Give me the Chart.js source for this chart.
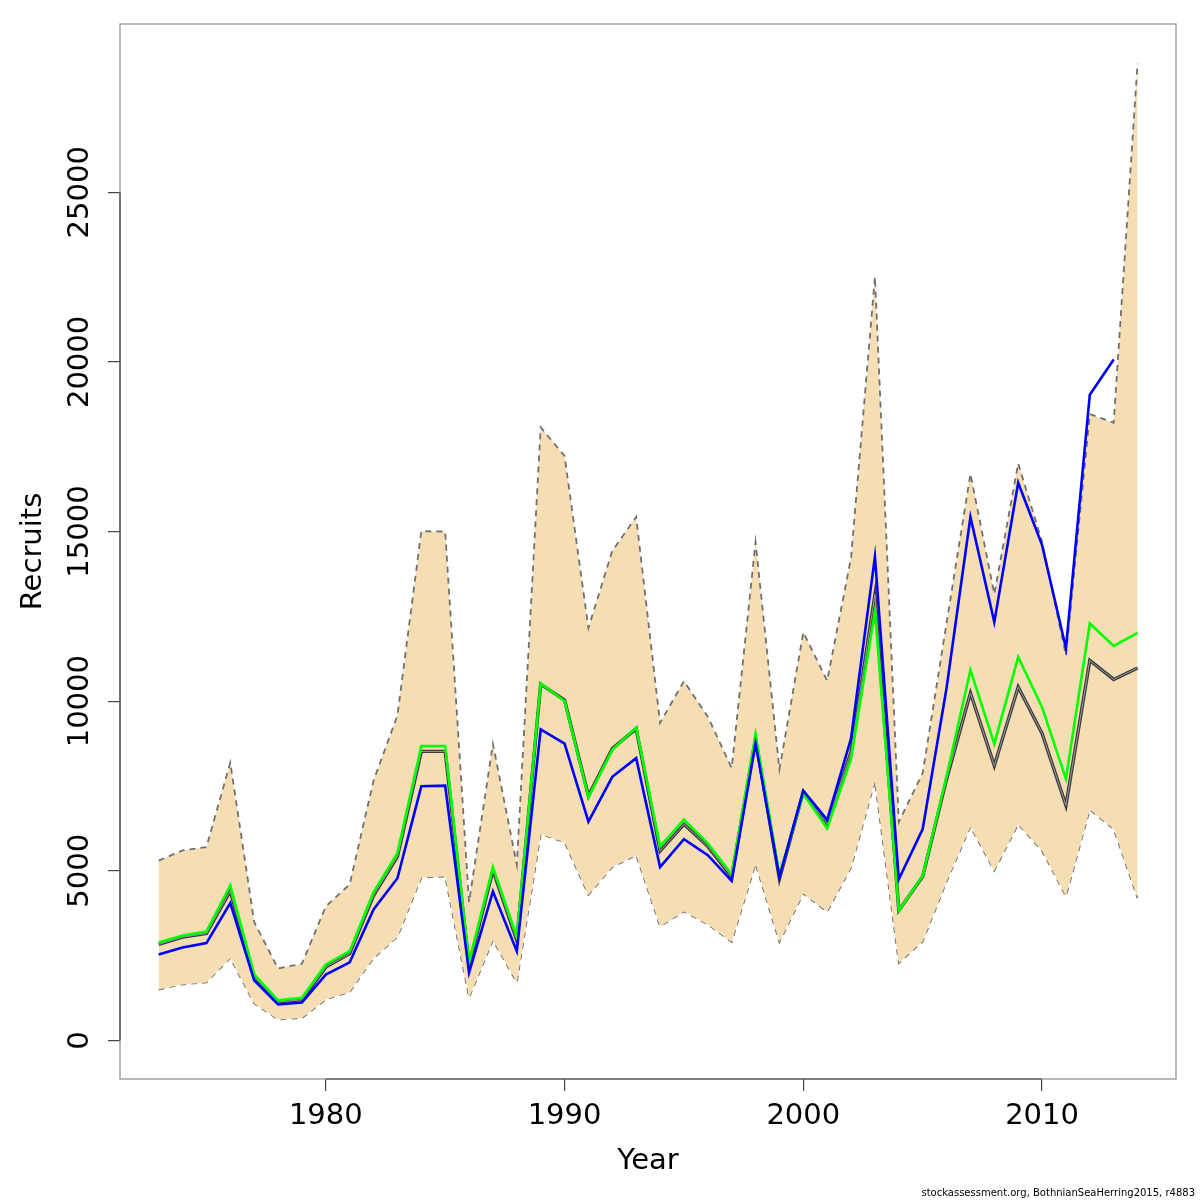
<!DOCTYPE html>
<html>
<head>
<meta charset="utf-8">
<script src="https://cdn.jsdelivr.net/npm/chart.js@4.4.1/dist/chart.umd.min.js"></script>
<style>
  body { margin: 0; background: #fff; }
  #wrap { width: 1200px; height: 1200px; }
</style>
</head>
<body>
<div id="wrap"><canvas id="recruits"></canvas></div>
<script>
// years of the assessment
const years = [1973, 1974, 1975, 1976, 1977, 1978, 1979, 1980, 1981, 1982,
  1983, 1984, 1985, 1986, 1987, 1988, 1989, 1990, 1991, 1992,
  1993, 1994, 1995, 1996, 1997, 1998, 1999, 2000, 2001, 2002,
  2003, 2004, 2005, 2006, 2007, 2008, 2009, 2010, 2011, 2012,
  2013, 2014]

// confidence band (dashed edges)
const upperCI = [5300, 5600, 5700, 8190, 3490, 2120, 2260, 3950, 4600, 7660,
  9580, 15010, 15000, 4080, 8740, 5180, 18070, 17230, 12160, 14430,
  15430, 9360, 10590, 9540, 8030, 14690, 7990, 12030, 10600, 14230,
  22510, 6440, 7880, 12300, 16700, 13160, 17010, 14700, 11350, 18460,
  18210, 28800]
const lowerCI = [1500, 1650, 1710, 2430, 1090, 620, 660, 1210, 1430, 2430,
  3050, 4800, 4830, 1260, 2950, 1710, 6080, 5840, 4290, 5110,
  5460, 3360, 3800, 3420, 2900, 5200, 2900, 4330, 3790, 5100,
  7640, 2280, 2920, 4680, 6300, 5000, 6370, 5590, 4250, 6800,
  6230, 4190]

// estimate (black)
const estimate = [2830, 3045, 3150, 4400, 1870, 1130, 1200, 2160, 2560, 4270,
  5420, 8520, 8520, 2210, 5010, 2950, 10500, 10030, 7210, 8600,
  9190, 5580, 6370, 5720, 4820, 8900, 4760, 7330, 6390, 8500,
  13140, 3830, 4830, 7700, 10240, 8100, 10420, 9050, 6930, 11200,
  10640, 10980]

// green run
const greenRun = [2890, 3090, 3210, 4570, 1945, 1180, 1260, 2240, 2630, 4370,
  5520, 8680, 8680, 2310, 5110, 3050, 10520, 10005, 7170, 8570,
  9220, 5720, 6510, 5810, 4900, 9020, 4880, 7270, 6250, 8300,
  12640, 3830, 4850, 7780, 10920, 8740, 11300, 9820, 7710, 12290,
  11630, 12010]

// blue run (ends 2013)
const blueRun = [2535, 2740, 2870, 4050, 1770, 1060, 1120, 1940, 2300, 3860,
  4780, 7490, 7510, 2000, 4390, 2630, 9170, 8750, 6450, 7770,
  8320, 5110, 5930, 5460, 4700, 8750, 4820, 7360, 6500, 8900,
  14260, 4750, 6230, 10390, 15430, 12330, 16440, 14600, 11560, 19030,
  20070, null]

const xTicks = [1980, 1990, 2000, 2010]
const yTicks = [0, 5000, 10000, 15000, 20000, 25000]

const FONT = 'DejaVu Sans'

function pts(arr) {
    return years.map((yr, i) => ({ x: yr, y: arr[i] }))
}

// R-like frame: grey box, dark axis lines between first and last tick, rotated y labels
const rFrame = {
    id: 'rFrame',
    afterDraw(chart) {
        const ctx = chart.ctx
        const a = chart.chartArea
        const xs = chart.scales.x
        const ys = chart.scales.y
        ctx.save()
        ctx.strokeStyle = '#8c8c8c'
        ctx.lineWidth = 1.2
        ctx.strokeRect(a.left, a.top, a.right - a.left, a.bottom - a.top)

        ctx.strokeStyle = '#444'
        ctx.lineWidth = 1.2
        ctx.beginPath()
        ctx.moveTo(xs.getPixelForValue(xTicks[0]), a.bottom)
        ctx.lineTo(xs.getPixelForValue(xTicks[xTicks.length - 1]), a.bottom)
        ctx.moveTo(a.left, ys.getPixelForValue(yTicks[0]))
        ctx.lineTo(a.left, ys.getPixelForValue(yTicks[yTicks.length - 1]))
        ctx.stroke()

        ctx.fillStyle = '#000'
        ctx.font = '29px "' + FONT + '"'
        ctx.textAlign = 'center'
        ctx.textBaseline = 'middle'
        yTicks.forEach((v) => {
            ctx.save()
            ctx.translate(80, ys.getPixelForValue(v))
            ctx.rotate(-Math.PI / 2)
            ctx.fillText(String(v), 0, 0)
            ctx.restore()
        })

        ctx.font = '10px "' + FONT + '"'
        ctx.textAlign = 'right'
        ctx.fillText('stockassessment.org, BothnianSeaHerring2015, r4883', 1195, 1193)
        ctx.restore()
    }
}

const config = {
    type: 'line',
    data: {
        datasets: [
            { label: 'blue', data: pts(blueRun), borderColor: '#0000ff', borderWidth: 2.6, order: 0, spanGaps: false },
            { label: 'green', data: pts(greenRun), borderColor: '#00ff00', borderWidth: 2.6, order: 1 },
            { label: 'estimate core', data: pts(estimate), borderColor: '#9a9a9a', borderWidth: 1, order: 2 },
            { label: 'estimate', data: pts(estimate), borderColor: '#3c3c3c', borderWidth: 3.4, order: 3 },
            {
                label: 'upper', data: pts(upperCI), borderColor: '#707070', borderWidth: 1.8,
                borderDash: [6, 5], fill: '+1', backgroundColor: '#f5deb3', order: 4
            },
            { label: 'lower', data: pts(lowerCI), borderColor: '#707070', borderWidth: 1.8, borderDash: [6, 5], order: 5 }
        ]
    },
    options: {
        responsive: true,
        maintainAspectRatio: false,
        animation: false,
        devicePixelRatio: 1,
        elements: {
            point: { radius: 0, hoverRadius: 0 },
            line: { tension: 0, fill: false }
        },
        layout: { padding: { top: 24, right: 24, left: 0, bottom: 0 } },
        plugins: {
            legend: { display: false },
            tooltip: { enabled: false }
        },
        scales: {
            x: {
                type: 'linear',
                min: 1971.38,
                max: 2015.61,
                afterBuildTicks: (scale) => { scale.ticks = xTicks.map(v => ({ value: v })) },
                afterFit: (scale) => { scale.height = 121 },
                grid: { drawOnChartArea: false, drawTicks: true, tickLength: 12, color: '#444', lineWidth: 1.2 },
                border: { display: false },
                ticks: {
                    color: '#000',
                    padding: 8,
                    font: { family: FONT, size: 29 },
                    maxRotation: 0,
                    autoSkip: false,
                    callback: (v) => String(v)
                },
                title: {
                    display: true,
                    text: 'Year',
                    color: '#000',
                    font: { family: FONT, size: 29 },
                    padding: { top: 0, bottom: 21 }
                }
            },
            y: {
                type: 'linear',
                min: -1137,
                max: 29960,
                afterBuildTicks: (scale) => { scale.ticks = yTicks.map(v => ({ value: v })) },
                afterFit: (scale) => { scale.width = 120 },
                grid: { drawOnChartArea: false, drawTicks: true, tickLength: 12, color: '#444', lineWidth: 1.2 },
                border: { display: false },
                ticks: { display: false },
                title: {
                    display: true,
                    text: 'Recruits',
                    color: '#000',
                    font: { family: FONT, size: 29 },
                    padding: { top: 16, bottom: 0 }
                }
            }
        }
    },
    plugins: [rFrame]
}

new Chart(document.getElementById('recruits'), config)
</script>
</body>
</html>
